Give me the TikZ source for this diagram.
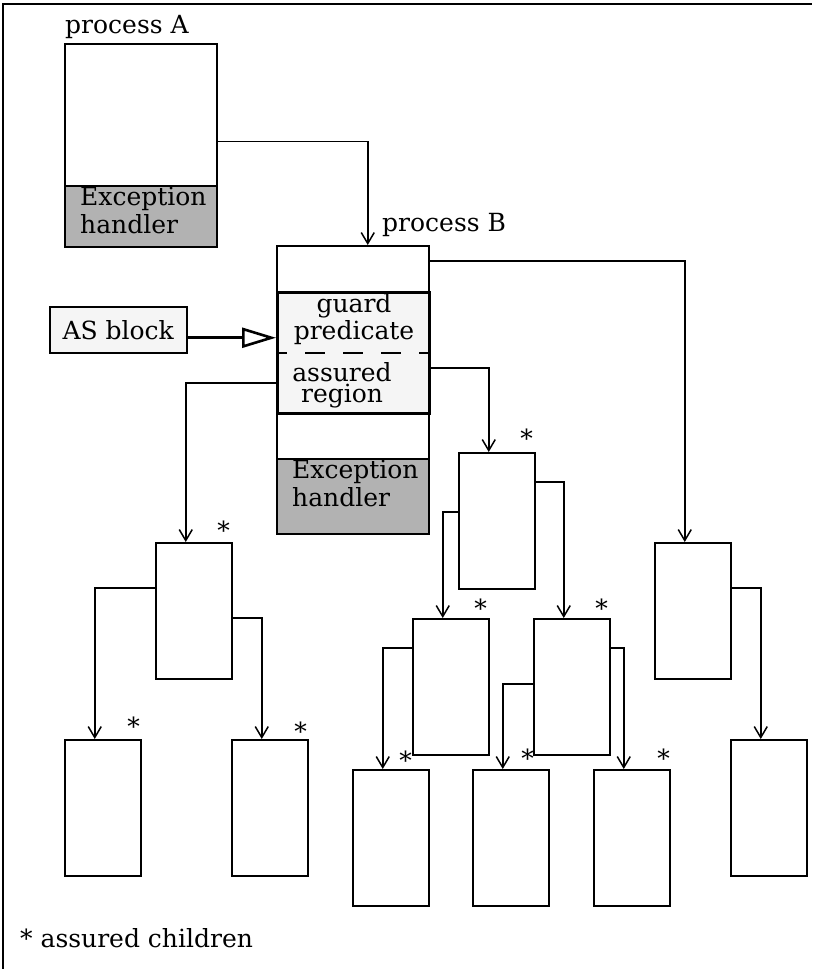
\documentclass[tikz,border=0pt]{standalone}
\usepackage{fontspec}
\setmainfont{DejaVu Serif}
\usetikzlibrary{arrows.meta}
\tikzset{
	proc/.style={draw, line width=1.5pt, fill=white, minimum width=76pt, minimum height=136pt, anchor=north west, inner sep=0pt},
	handler/.style={draw, line width=1.5pt, fill=black!30, minimum width=152pt, anchor=north west, inner sep=0pt},
	guardbox/.style={draw, line width=2.6pt, fill=black!4, minimum width=152pt, minimum height=121pt, anchor=north west, inner sep=0pt},
	txt/.style={inner sep=0pt, align=left},
	astx/.style={inner sep=0pt, yshift=-5pt},
	link/.style={-{Straight Barb[length=11pt,width=13pt]}, line width=1.5pt}
}
\begin{document}
\begin{tikzpicture}[x=1pt, y=-1pt, font=\fontsize{25}{27.5}\selectfont]
		\useasboundingbox (0,0) rectangle (812,969);
		%frame
		\draw[line width=2pt] (3,969) -- (3,4) -- (812,4);
		
		%process A
		\node (procA) [proc, minimum width=152pt, minimum height=203pt] at (64,43) {};
		\node (excA) [handler, minimum height=61pt] at (64,185) {};
		\node (tA) [txt, anchor=north west] at ([shift={(16,2)}]excA.north west) {Exception\\handler};
		\node (labA) [anchor=base west, inner sep=0pt] at ([shift={(1,-10)}]procA.north west) {process A};
		
		%process B
		\node (procB) [proc, minimum width=152pt, minimum height=288pt] at (276,245) {};
		\node (guard) [guardbox] at (276,291) {};
		\draw[line width=1.5pt, dash pattern=on 20pt off 18pt, dash phase=9pt] (guard.west) -- (guard.east);
		\node (tG) [txt, align=center, anchor=north] at ([shift={(78,2)}]guard.north west) {guard\\predicate};
		\node (tR) [txt, align=center, anchor=north, font=\fontsize{25}{21}\selectfont] at ([shift={(66,71)}]guard.north west) {assured\\region};
		\node (excB) [handler, minimum height=75pt] at (276,458) {};
		\node (tB) [txt, anchor=north west] at ([shift={(16,2)}]excB.north west) {Exception\\handler};
		\node (labB) [anchor=base west, inner sep=0pt] at ([shift={(106,-14)}]procB.north west) {process B};
		
		%AS block
		\node (asblk) [draw, line width=1.5pt, fill=black!4, minimum width=137pt, minimum height=46pt, anchor=north west] at (49,306) {AS block};
		\draw[line width=2.6pt, -{Triangle[open, length=34pt, width=20pt]}] ([yshift=-8pt]asblk.east) -- ([yshift=-8pt]asblk.east -| guard.west);
		
		%children
		\node (L1) [proc] at (155,542) {};
		\node (LL) [proc] at (64,739) {};
		\node (LR) [proc] at (231,739) {};
		\node (M1) [proc] at (458,452) {};
		\node (M1L) [proc] at (412,618) {};
		\node (M1R) [proc] at (533,618) {};
		\node (MLL) [proc] at (352,769) {};
		\node (MRL) [proc] at (472,769) {};
		\node (MRR) [proc] at (593,769) {};
		\node (R1) [proc] at (654,542) {};
		\node (RR) [proc] at (730,739) {};
		
		\draw[link] ([yshift=4pt]procA.east) -| ([xshift=15pt]procB.north);
		\draw[link] ([yshift=-16pt]procB.north east) -| ([xshift=-8pt]R1.north);
		\draw[link] ([yshift=-15pt]guard.east) -| ([xshift=-8pt]M1.north);
		\draw[link] ([yshift=-30pt]guard.west) -| ([xshift=-8pt]L1.north);
		\draw[link] ([yshift=-46pt]L1.north west) -| ([xshift=-8pt]LL.north);
		\draw[link] ([yshift=-76pt]L1.north east) -| ([xshift=-8pt]LR.north);
		\draw[link] ([yshift=-60pt]M1.north west) -| ([xshift=-8pt]M1L.north);
		\draw[link] ([yshift=-30pt]M1.north east) -| ([xshift=-8pt]M1R.north);
		\draw[link] ([yshift=-30pt]M1L.north west) -| ([xshift=-8pt]MLL.north);
		\draw[link] ([yshift=-66pt]M1R.north west) -| ([xshift=-8pt]MRL.north);
		\draw[link] ([yshift=-30pt]M1R.north east) -| ([xshift=-8pt]MRR.north);
		\draw[link] ([yshift=-46pt]R1.north east) -| ([xshift=-8pt]RR.north);
		
		%assured marks
		\foreach \bx/\dx/\dy in {L1/-9/-17, LL/-8/-18, LR/-8/-13, M1/-9/-19, M1L/-9/-15, M1R/-9/-15, MLL/-24/-14, MRL/-22/-16, MRR/-7/-16}{
			\node (s\bx) [astx] at ([shift={(\dx,\dy)}]\bx.north east) {*};
		}
		\node (legend) [anchor=base west, inner sep=0pt] at (20,947) {* assured children};
\end{tikzpicture}
\end{document}
